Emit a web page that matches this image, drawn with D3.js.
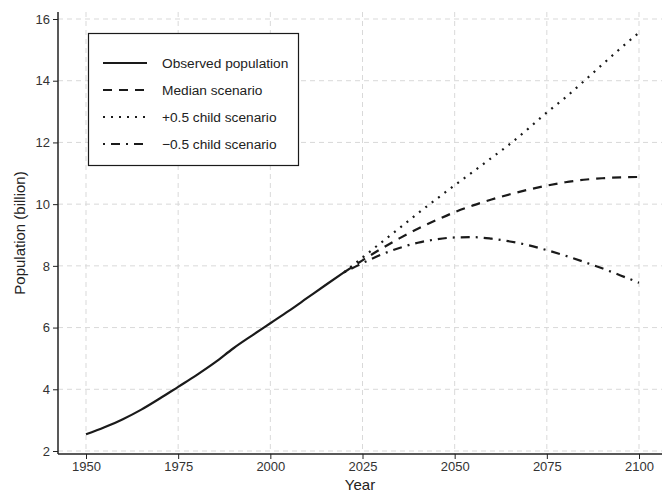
<!DOCTYPE html>
<html>
<head>
<meta charset="utf-8">
<script src="https://cdn.jsdelivr.net/npm/d3@7"></script>
<style>
  body { margin: 0; background: #fff; }
  svg { font-family: "Liberation Sans", Arial, sans-serif; }
</style>
</head>
<body>
<svg id="svg" width="662" height="493"></svg>
<script>
// observed population, billions
var obsYears = [1950, 1955, 1960, 1965, 1970, 1975, 1980, 1985, 1990, 1995, 2000, 2005, 2010, 2015, 2020];
var obsValues = [2.54, 2.77, 3.03, 3.34, 3.70, 4.08, 4.46, 4.87, 5.33, 5.74, 6.14, 6.54, 6.96, 7.38, 7.79];

// projections
var projYears = [2020, 2025, 2030, 2035, 2040, 2045, 2050, 2055, 2060, 2065, 2070, 2075, 2080, 2085, 2090, 2095, 2100];
var medianValues = [7.79, 8.18, 8.55, 8.89, 9.20, 9.48, 9.74, 9.96, 10.15, 10.32, 10.47, 10.60, 10.71, 10.79, 10.84, 10.87, 10.88];
var highValues = [7.79, 8.27, 8.75, 9.22, 9.70, 10.16, 10.61, 11.05, 11.50, 11.95, 12.45, 12.97, 13.45, 13.98, 14.52, 15.05, 15.56];
var lowValues = [7.79, 8.09, 8.36, 8.58, 8.75, 8.86, 8.92, 8.93, 8.88, 8.79, 8.67, 8.51, 8.33, 8.13, 7.92, 7.69, 7.45];

var xTicks = [1950, 1975, 2000, 2025, 2050, 2075, 2100];
var yTicks = [2, 4, 6, 8, 10, 12, 14, 16];

var series = [
  { name: "Observed population", years: obsYears, values: obsValues, dash: null },
  { name: "Median scenario", years: projYears, values: medianValues, dash: "9,7" },
  { name: "+0.5 child scenario", years: projYears, values: highValues, dash: "2,6" },
  { name: "\u22120.5 child scenario", years: projYears, values: lowValues, dash: "2,6,9,6" }
];

var svg = d3.select("#svg");
var width = 662, height = 493;
var plotLeft = 58, plotTop = 12, plotBottom = 454;

var x = d3.scaleLinear().domain([1950, 2100]).range([86, 639]);
var y = d3.scaleLinear().domain([2, 16]).range([451, 19]);

var gridColor = "#d9d9d9";

// grid
svg.append("g")
  .selectAll("line")
  .data(yTicks)
  .join("line")
  .attr("x1", plotLeft)
  .attr("x2", width)
  .attr("y1", d => y(d))
  .attr("y2", d => y(d))
  .attr("stroke", gridColor)
  .attr("stroke-width", 1)
  .attr("stroke-dasharray", "5,4");

svg.append("g")
  .selectAll("line")
  .data(xTicks)
  .join("line")
  .attr("x1", d => x(d))
  .attr("x2", d => x(d))
  .attr("y1", plotTop)
  .attr("y2", plotBottom)
  .attr("stroke", gridColor)
  .attr("stroke-width", 1)
  .attr("stroke-dasharray", "5,4");

// axes
var xAxis = svg.append("g")
  .attr("transform", `translate(0, ${plotBottom})`)
  .call(d3.axisBottom(x).tickValues(xTicks).tickFormat(d3.format("d")).tickSizeOuter(0).tickSize(5).tickPadding(3));
xAxis.select(".domain").attr("d", `M${plotLeft},0H${width}`);

var yAxis = svg.append("g")
  .attr("transform", `translate(${plotLeft}, 0)`)
  .call(d3.axisLeft(y).tickValues(yTicks).tickSizeOuter(0).tickSize(5).tickPadding(3));
yAxis.select(".domain").attr("d", `M0,${plotTop}V${plotBottom}`);

[xAxis, yAxis].forEach(function (a) {
  a.select(".domain").attr("stroke", "#222").attr("stroke-width", 1.5);
  a.selectAll(".tick line").attr("stroke", "#222").attr("stroke-width", 1);
  a.selectAll(".tick text")
    .attr("fill", "#333")
    .style("font-size", "13px")
    .style("font-family", "'Liberation Sans', Arial, sans-serif");
});

// axis titles
svg.append("text")
  .attr("x", (plotLeft + width) / 2)
  .attr("y", 490)
  .attr("text-anchor", "middle")
  .attr("fill", "#222")
  .style("font-size", "15px")
  .text("Year");

svg.append("text")
  .attr("transform", `translate(25, ${(plotTop + plotBottom) / 2}) rotate(-90)`)
  .attr("text-anchor", "middle")
  .attr("fill", "#222")
  .style("font-size", "15px")
  .text("Population (billion)");

// lines
var line = d3.line()
  .x(d => x(d[0]))
  .y(d => y(d[1]))
  .curve(d3.curveMonotoneX);

series.forEach(function (s) {
  svg.append("path")
    .datum(d3.zip(s.years, s.values))
    .attr("fill", "none")
    .attr("stroke", "#1a1a1a")
    .attr("stroke-width", 2.2)
    .attr("stroke-dasharray", s.dash)
    .attr("d", line);
});

// legend
var legend = svg.append("g");
legend.append("rect")
  .attr("x", 88.5)
  .attr("y", 33.5)
  .attr("width", 210)
  .attr("height", 132)
  .attr("fill", "#fff")
  .attr("stroke", "#1a1a1a")
  .attr("stroke-width", 1.2);

var rows = legend.selectAll("g.row")
  .data(series)
  .join("g")
  .attr("class", "row")
  .attr("transform", (d, i) => `translate(0, ${63 + i * 27})`);

rows.append("line")
  .attr("x1", 103)
  .attr("x2", 147)
  .attr("stroke", "#1a1a1a")
  .attr("stroke-width", 2.2)
  .attr("stroke-dasharray", d => d.dash);

rows.append("text")
  .attr("x", 162)
  .attr("dy", "0.35em")
  .attr("fill", "#222")
  .style("font-size", "13.7px")
  .text(d => d.name);
</script>
</body>
</html>
